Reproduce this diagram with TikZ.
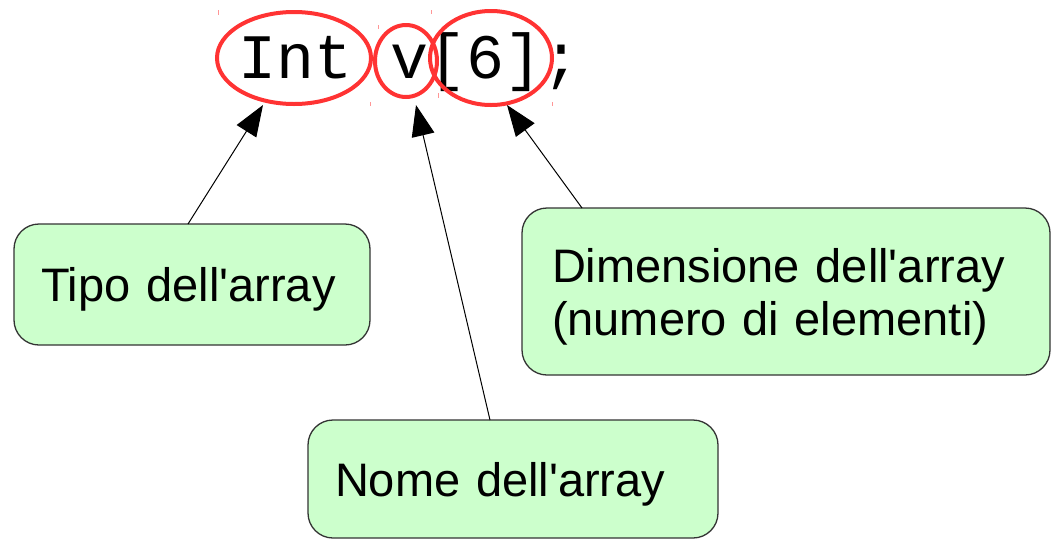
\documentclass[tikz,border=0pt]{standalone}
\usepackage{fontspec}
\setmainfont{Liberation Sans}[Ligatures=TeXOff]
\newfontfamily\monof{Liberation Mono}[Ligatures=TeXOff]
\usetikzlibrary{arrows.meta}
\definecolor{boxfill}{RGB}{204,255,204}
\definecolor{boxline}{RGB}{51,51,51}
\definecolor{ovalred}{RGB}{255,51,51}
\definecolor{tickred}{RGB}{255,150,150}
\tikzset{
  labelbox/.style={draw=boxline, line width=1.3pt, fill=boxfill, rounded corners=25pt,
    inner xsep=27pt, inner ysep=0pt, align=left, text=black, text depth=0pt,
    font=\fontsize{47}{53}\selectfont},
  oval/.style={draw=ovalred, line width=4pt},
  pointer/.style={draw=black, line width=1pt, -{Triangle[length=31pt,width=23pt]}},
  tick/.style={draw=tickred, line width=1pt}
}
\begin{document}
\begin{tikzpicture}[x=1pt,y=-1pt]
\useasboundingbox (0,0) rectangle (1055,539);
% code line
\node[anchor=base west, inner sep=0pt, font=\monof\fontsize{63.3}{70}\selectfont] (code) at (238,78) {Int v[6];};
% ovals
\draw[oval] (294,58) ellipse (77 and 46);
\draw[oval] (406,61) ellipse (31 and 36);
\draw[oval] (491,58) ellipse (61 and 47);
% small handle marks
\draw[tick] (218,10) -- (218,15);
\draw[tick] (431,10) -- (431,14);
\draw[tick] (378,25) -- (378,29);
\draw[tick] (370,102) -- (370,106);
\draw[tick] (438,93) -- (438,98);
\draw[tick] (552,102) -- (552,106);
% boxes
\node[labelbox, minimum width=356pt, minimum height=121pt, text width=302pt] (tipo) at (192,284.5) {Tipo dell'array};
\node[labelbox, minimum width=410pt, minimum height=118pt, text width=356pt] (nome) at (513,479) {Nome dell'array};
\node[labelbox, inner xsep=30pt, text depth=53pt, minimum width=528pt, minimum height=167pt, text width=468pt] (dim) at (786,291.5) {Dimensione dell'array\\(numero di elementi)};
% connector ends
\coordinate (s1) at (188,224);
\coordinate (t1) at (263,105);
\coordinate (s2) at (490,420);
\coordinate (t2) at (416,105);
\coordinate (s3) at (582,208);
\coordinate (t3) at (507,105);
\draw[pointer] (s1) -- (t1);
\draw[pointer] (s2) -- (t2);
\draw[pointer] (s3) -- (t3);
\end{tikzpicture}
\end{document}
